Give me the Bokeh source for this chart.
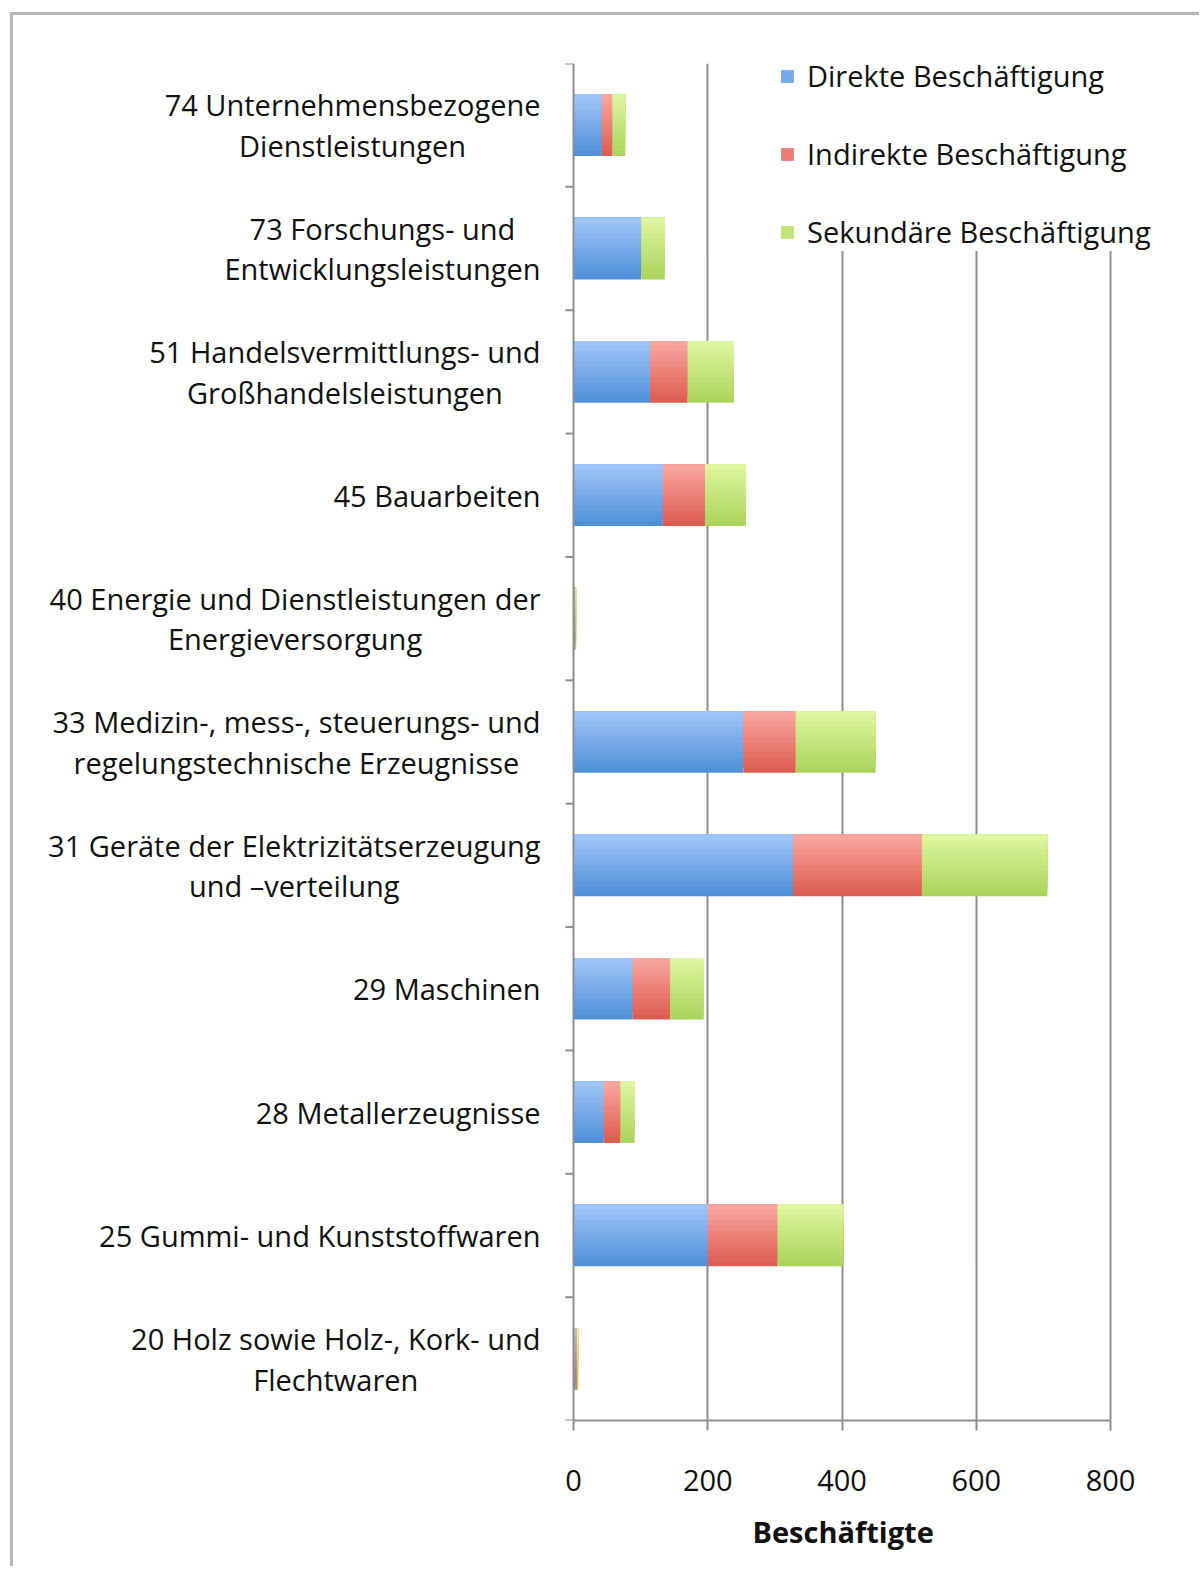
from bokeh.plotting import figure
from bokeh.models import FixedTicker, Legend, LegendItem, Range1d, Title
from bokeh.core.properties import value
from bokeh.embed import file_html
from bokeh.resources import INLINE

categories = [
    "74 Unternehmensbezogene\nDienstleistungen",
    "73 Forschungs- und\nEntwicklungsleistungen",
    "51 Handelsvermittlungs- und\nGroßhandelsleistungen",
    "45 Bauarbeiten",
    "40 Energie und Dienstleistungen der\nEnergieversorgung",
    "33 Medizin-, mess-, steuerungs- und\nregelungstechnische Erzeugnisse",
    "31 Geräte der Elektrizitätserzeugung\nund –verteilung",
    "29 Maschinen",
    "28 Metallerzeugnisse",
    "25 Gummi- und Kunststoffwaren",
    "20 Holz sowie Holz-, Kork- und\nFlechtwaren",
]
direkt = [42, 101, 114, 133, 2, 253, 327, 88, 45, 200, 3]
indirekt = [16, 0, 56, 63, 1, 78, 192, 56, 25, 104, 2]
sekundaer = [19, 35, 69, 61, 1, 119, 187, 50, 21, 98, 2]
series_names = ["Direkte Beschäftigung", "Indirekte Beschäftigung", "Sekundäre Beschäftigung"]
x_ticks = [0, 200, 400, 600, 800]
x_title = "Beschäftigte"

# light (top) and dark (bottom) shade of each series, for the gradient look
top_colors = [(0xa3, 0xc6, 0xfa), (0xfa, 0xa8, 0xa2), (0xdf, 0xf7, 0xa2)]
bot_colors = [(0x4d, 0x8f, 0xd8), (0xdd, 0x5a, 0x4f), (0xa9, 0xd3, 0x5a)]

n = len(categories)
ypos = [n - 0.5 - i for i in range(n)]
boundaries = list(range(0, n + 1))

FONT = "Open Sans"
FS = "29px"
AX = "#8e8e8e"
TXT = "#111111"
BAR_H = 0.5
BANDS = 12

X_MIN, X_MAX = -829.8, 911.7
TICK_LEN = 12

p = figure(width=1189, height=1554, output_backend="svg", toolbar_location=None,
           x_range=Range1d(X_MIN, X_MAX), y_range=Range1d(0, n),
           min_border_left=3, min_border_right=17, min_border_top=48, min_border_bottom=149)
p.outline_line_color = None
p.background_fill_color = "white"
p.border_fill_color = "white"
p.styles = {"margin-left": "10px", "margin-top": "12px",
            "border-left": "3px solid #b8b8b8", "border-top": "3px solid #b8b8b8"}


def mix(c1, c2, t):
    return "#%02x%02x%02x" % tuple(round(a + (b - a) * t) for a, b in zip(c1, c2))


# nested layers: each one runs from the bar top down to the bottom of band j,
# drawn from the full-height (darkest) one up to the thinnest (lightest) one
band_h = BAR_H / BANDS
legend_renderers = None
for j in reversed(range(BANDS)):
    t = (j + 0.5) / BANDS
    h = (j + 1) * band_h
    data = dict(y=[yy + BAR_H / 2 - h / 2 for yy in ypos], d=direkt, i=indirekt, s=sekundaer)
    cols = [mix(a, b, t) for a, b in zip(top_colors, bot_colors)]
    rs = p.hbar_stack(["d", "i", "s"], y="y", height=h, color=cols, source=data,
                      line_color=None)
    if j == BANDS // 2:
        legend_renderers = rs

# y axis drawn by hand: line, boundary ticks, category labels
p.segment(x0=[0], y0=[0], x1=[0], y1=[n], line_color=AX, line_width=2)
p.segment(x0=[-TICK_LEN] * len(boundaries), y0=boundaries, x1=[0] * len(boundaries), y1=boundaries,
          line_color=AX, line_width=2)
p.text(x=[0] * n, y=ypos, text=categories, x_offset=-33, anchor="center_right",
       text_align="center", text_baseline="middle", text_font=value(FONT),
       text_font_size=FS, text_color=TXT, text_line_height=1.04)

p.yaxis.visible = False
p.ygrid.grid_line_color = None

# x axis
p.xaxis.bounds = (0, 800)
p.xaxis.ticker = FixedTicker(ticks=x_ticks)
p.xaxis.major_label_text_font = FONT
p.xaxis.major_label_text_font_size = FS
p.xaxis.major_label_text_color = TXT
p.xaxis.major_label_standoff = 39
p.xaxis.major_tick_out = 10
p.xaxis.major_tick_in = 0
p.xaxis.minor_tick_line_color = None
p.xaxis.axis_line_color = AX
p.xaxis.axis_line_width = 2
p.xaxis.major_tick_line_color = AX
p.xaxis.major_tick_line_width = 2

# axis title, centred under the 0-800 part of the axis
p.add_layout(Title(text=x_title, align="left", offset=736, standoff=33,
                   text_font=FONT, text_font_size=FS, text_font_style="bold",
                   text_color=TXT), "below")

p.xgrid.ticker = FixedTicker(ticks=x_ticks[1:])
p.xgrid.grid_line_color = AX
p.xgrid.grid_line_width = 2

legend = Legend(items=[LegendItem(label=nm, renderers=[r]) for nm, r in zip(series_names, legend_renderers)],
                location=(763, 1169), orientation="vertical",
                glyph_width=16, glyph_height=16, label_height=30, spacing=39,
                label_standoff=12, padding=12, margin=0,
                label_text_font=FONT, label_text_font_size=FS, label_text_color=TXT,
                background_fill_color="white", background_fill_alpha=1.0,
                border_line_color=None)
p.add_layout(legend, "center")

open("out.html", "w").write(file_html(p, INLINE))
